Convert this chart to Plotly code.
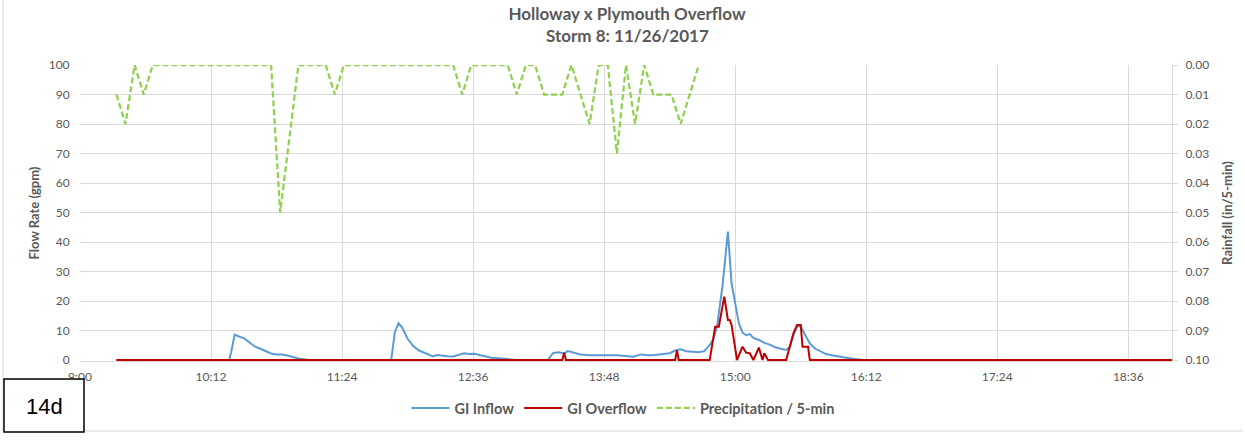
import plotly.graph_objects as go

DAY = "2017-11-26 "

# ---- GI Inflow (gpm) ----
inflow_time = ["09:20", "10:21", "10:22", "10:23", "10:25", "10:28", "10:30", "10:33", "10:36", "10:39",
               "10:42", "10:45", "10:48", "10:51", "10:54", "10:57", "11:00", "11:05", "11:10",
               "11:51", "11:53", "11:55", "11:57", "12:00", "12:03", "12:06", "12:09", "12:12", "12:14",
               "12:16", "12:19", "12:22", "12:25", "12:28", "12:31", "12:34", "12:37", "12:40", "12:43",
               "12:46", "12:50", "12:55", "13:00",
               "13:17", "13:20", "13:23", "13:26", "13:28", "13:31", "13:35", "13:40", "13:45", "13:50",
               "13:55", "14:00", "14:04", "14:08", "14:12", "14:16", "14:20", "14:24", "14:27", "14:30",
               "14:33", "14:36", "14:40", "14:43", "14:46", "14:48", "14:50", "14:53", "14:56", "14:58",
               "15:00", "15:02", "15:04", "15:06", "15:08", "15:10", "15:13", "15:16", "15:19", "15:22",
               "15:25", "15:28", "15:30", "15:32", "15:34", "15:36", "15:38", "15:41", "15:44", "15:47",
               "15:50", "15:53", "15:57", "16:01", "16:05", "16:10", "19:00"]
inflow_gpm = [0, 0, 0, 2.5, 8.6, 7.8, 7.4, 6.0, 4.6, 3.8,
              3.0, 2.2, 1.9, 1.9, 1.5, 0.9, 0.5, 0.1, 0,
              0, 9.5, 12.5, 11.0, 7.2, 4.8, 3.3, 2.6, 1.9, 1.2,
              1.7, 1.4, 1.3, 1.2, 1.8, 2.3, 2.0, 2.1, 1.6, 1.2,
              0.8, 0.6, 0.2, 0,
              0, 2.4, 2.6, 2.2, 3.0, 2.6, 1.9, 1.6, 1.7, 1.6,
              1.6, 1.2, 1.1, 1.9, 1.6, 1.7, 2.0, 2.3, 3.2, 3.6,
              3.0, 2.8, 2.6, 3.0, 5.1, 7.0, 11.3, 25.0, 43.5, 26.0,
              19.0, 12.5, 9.3, 8.4, 8.8, 7.5, 6.8, 5.8, 5.2, 4.3,
              3.8, 3.4, 4.5, 8.5, 11.3, 11.5, 9.0, 5.6, 3.8, 2.8,
              2.0, 1.6, 1.1, 0.8, 0.4, 0, 0]

# ---- GI Overflow (gpm) ----
overflow_time = ["09:20", "13:25", "13:26", "13:27", "14:27", "14:28", "14:29", "14:46", "14:49", "14:51",
                 "14:54", "14:56", "14:57", "14:58", "15:01", "15:04", "15:06", "15:08", "15:10", "15:13",
                 "15:15", "15:16", "15:18", "15:28", "15:32", "15:34", "15:36", "15:37", "15:40", "15:41",
                 "19:00"]
overflow_gpm = [0, 0, 2.5, 0, 0, 3.2, 0, 0, 11.3, 11.3,
                21.5, 13.6, 13.6, 11.9, 0, 4.5, 2.5, 2.3, 0, 4.2,
                0, 2.3, 0, 0, 9.0, 11.9, 11.9, 4.5, 4.5, 0,
                0]

# ---- Precipitation (in / 5-min) ----
precip_time = ["09:20", "09:25", "09:30", "09:35", "09:40", "10:45", "10:50", "11:00", "11:15", "11:20",
               "11:25", "12:25", "12:30", "12:35", "12:55", "13:00", "13:05", "13:10", "13:15", "13:25",
               "13:30", "13:40", "13:45", "13:50", "13:55", "14:00", "14:05", "14:10", "14:15", "14:25",
               "14:30", "14:40"]
precip_in = [0.01, 0.02, 0.00, 0.01, 0.00, 0.00, 0.05, 0.00, 0.00, 0.01,
             0.00, 0.00, 0.01, 0.00, 0.00, 0.01, 0.00, 0.00, 0.01, 0.01,
             0.00, 0.02, 0.00, 0.00, 0.03, 0.00, 0.02, 0.00, 0.01, 0.01,
             0.02, 0.00]

# ---- axis ticks ----
x_tick_times = ["09:00", "10:12", "11:24", "12:36", "13:48", "15:00", "16:12", "17:24", "18:36"]
x_tick_labels = ["9:00", "10:12", "11:24", "12:36", "13:48", "15:00", "16:12", "17:24", "18:36"]
x_range = ["09:00", "19:00"]
y_ticks = [0, 10, 20, 30, 40, 50, 60, 70, 80, 90, 100]
y2_ticks = [0.00, 0.01, 0.02, 0.03, 0.04, 0.05, 0.06, 0.07, 0.08, 0.09, 0.10]


def ts(t):
    h, m = t.split(":")
    return DAY + "%02d:%s:00" % (int(h), m)


GRAY_TXT = "#595959"
GRID = "#D9D9D9"
FONT = "Lato, Carlito, Calibri, sans-serif"

fig = go.Figure()
fig.add_trace(go.Scatter(x=[ts(t) for t in inflow_time], y=inflow_gpm, name="GI Inflow",
                         mode="lines", line=dict(color="#5B9BD5", width=2)))
fig.add_trace(go.Scatter(x=[ts(t) for t in overflow_time], y=overflow_gpm, name="GI Overflow",
                         mode="lines", line=dict(color="#C00000", width=2)))
fig.add_trace(go.Scatter(x=[ts(t) for t in precip_time], y=precip_in, name="Precipitation / 5-min",
                         mode="lines", yaxis="y2",
                         line=dict(color="#92D050", width=2.25, dash="6px,3px")))

W, H = 1245, 448
L, R, T, B = 80, 73, 65, 87
pw, ph = W - L - R, H - T - B
# a one-pixel pad below zero so the baseline lines are not half clipped by the plot area
PAD = 100.0 / 295.0          # flow units per pixel
PAD2 = 0.10 / 295.0          # rainfall units per pixel


def px_x(p):
    return (p - L) / pw


def px_y(p):
    return (H - B - p) / ph


fig.update_layout(
    width=W, height=H,
    margin=dict(l=L, r=R, t=T, b=B, autoexpand=False),
    paper_bgcolor="white", plot_bgcolor="white",
    font=dict(family=FONT, size=12, color=GRAY_TXT),
    title=dict(text="<b>Holloway x Plymouth Overflow</b>", x=px_x(627), xanchor="center",
               xref="paper", y=1 - 14 / H, yref="container", yanchor="middle",
               font=dict(size=17, color=GRAY_TXT, family=FONT)),
    showlegend=True,
    legend=dict(orientation="h", x=px_x(623), xanchor="center", y=px_y(408), yanchor="middle",
                font=dict(size=14.5, color=GRAY_TXT, family=FONT, weight="bold"),
                itemwidth=38, bgcolor="rgba(0,0,0,0)", traceorder="normal"),
    xaxis=dict(type="date", range=[ts(x_range[0]), ts(x_range[1])],
               tickvals=[ts(t) for t in x_tick_times],
               ticktext=x_tick_labels, showgrid=True, gridcolor=GRID, gridwidth=1,
               showline=True, linecolor=GRID, zeroline=False,
               ticks="outside", ticklen=5, tickcolor="rgba(0,0,0,0)",
               tickfont=dict(size=12, color=GRAY_TXT)),
    yaxis=dict(range=[-PAD, 100], tickvals=y_ticks, showgrid=True, gridcolor=GRID, gridwidth=1,
               zeroline=False, showline=False,
               ticks="outside", ticklen=7, tickcolor="rgba(0,0,0,0)",
               title=dict(text="<b>Flow Rate (gpm)</b>", standoff=6,
                          font=dict(size=13, color=GRAY_TXT)),
               tickfont=dict(size=12, color=GRAY_TXT)),
    yaxis2=dict(range=[0.10 + PAD2, 0.0], tickvals=y2_ticks, tickformat=".2f", overlaying="y",
                side="right", showgrid=False, zeroline=False, showline=True, linecolor=GRID,
                ticks="outside", ticklen=5, tickcolor=GRID, ticklabelstandoff=5,
                title=dict(text="<b>Rainfall (in/5-min)</b>", standoff=14,
                           font=dict(size=13, color=GRAY_TXT)),
                tickfont=dict(size=12, color=GRAY_TXT)),
)

fig.add_annotation(text="<b>Storm 8: 11/26/2017</b>", xref="paper", yref="paper",
                   x=px_x(627), y=px_y(35), xanchor="center", yanchor="middle", showarrow=False,
                   font=dict(size=17, color=GRAY_TXT, family=FONT))

# chart outer border (left and bottom)
fig.add_shape(type="line", xref="paper", yref="paper", x0=px_x(3), x1=px_x(3), y0=px_y(431), y1=px_y(0),
              line=dict(color=GRID, width=1))
fig.add_shape(type="line", xref="paper", yref="paper", x0=px_x(3), x1=px_x(1243), y0=px_y(431), y1=px_y(431),
              line=dict(color=GRID, width=1))

# "14d" label box
fig.add_shape(type="rect", xref="paper", yref="paper", x0=px_x(4), x1=px_x(84), y0=px_y(432), y1=px_y(379),
              line=dict(color="black", width=1.5), fillcolor="white")
fig.add_annotation(text="14d", xref="paper", yref="paper", x=px_x(44), y=px_y(406),
                   xanchor="center", yanchor="middle", showarrow=False,
                   font=dict(size=22, color="black", family="Liberation Sans, Arial, sans-serif"))

# the page is photographed from its top-left corner: drop the browser's default body margin
fig.write_html("out.html", config={"displayModeBar": False},
               post_script="document.body.style.margin='0';")
